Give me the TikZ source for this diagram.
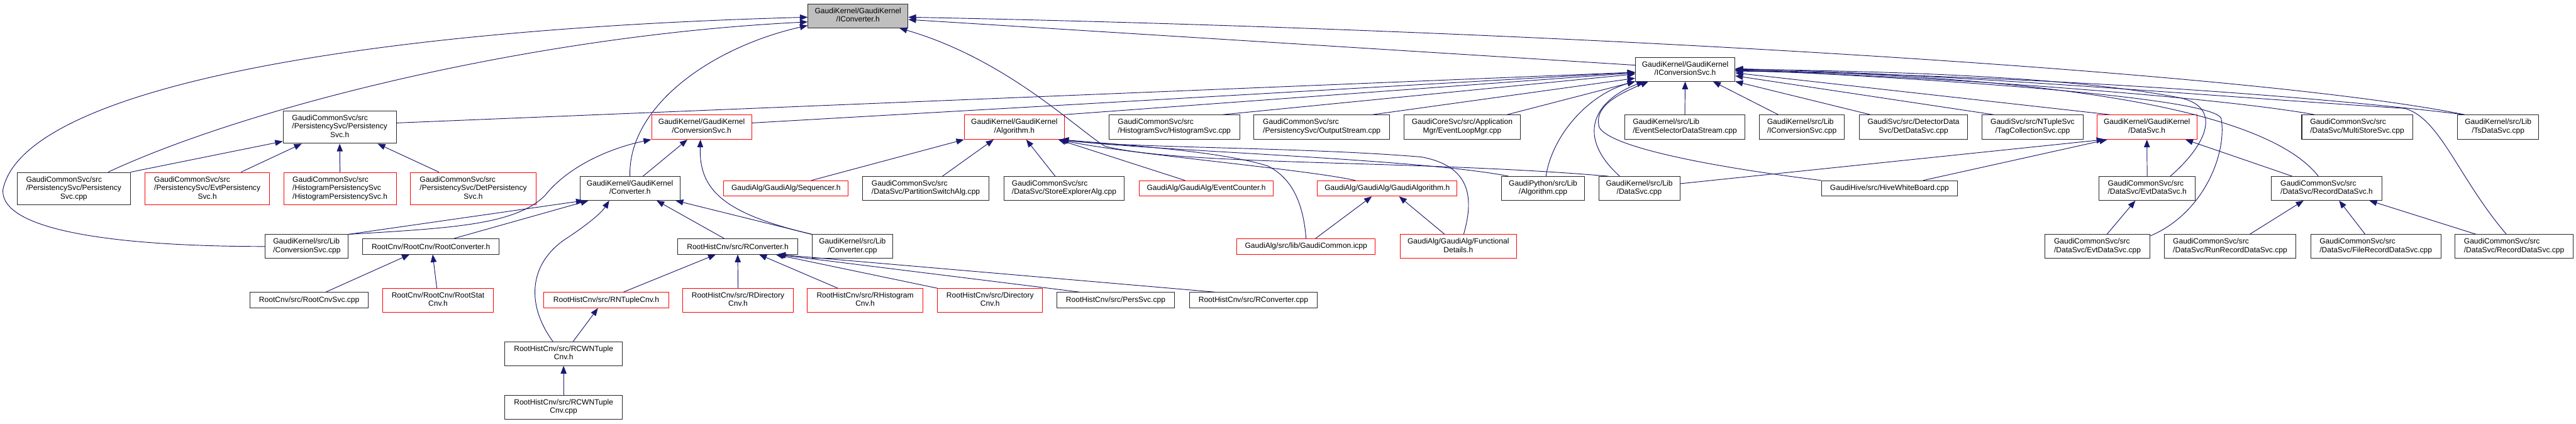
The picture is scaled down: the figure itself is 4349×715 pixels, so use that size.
\documentclass[tikz,border=0pt]{standalone}
\usepackage{fontspec}
\setmainfont{Liberation Sans}
\usepackage{tikz}
\usetikzlibrary{arrows.meta}
\usepackage{xcolor}
\definecolor{edgeblue}{RGB}{25,25,112}
\definecolor{rootgray}{RGB}{191,191,191}
\definecolor{incred}{RGB}{255,0,0}
\newcommand{\gfont}{\fontsize{12.8}{14.3}\selectfont}
\newcommand{\twoln}[2]{\begin{tabular}{@{}l@{}}#1\\\multicolumn{1}{@{}c@{}}{#2}\end{tabular}}
\newcommand{\threeln}[3]{\begin{tabular}{@{}l@{}}#1\\#2\\\multicolumn{1}{@{}c@{}}{#3}\end{tabular}}

\begin{document}
\begin{tikzpicture}[x=1pt, y=-1pt,
  file/.style={draw=black!85, line width=1.1pt, fill=white, inner xsep=3pt, inner ysep=0pt, font=\gfont, align=center},
  redfile/.style={file, draw=incred},
  rootfile/.style={file, fill=rootgray},
  dep/.style={edgeblue, line width=1pt, -{Triangle[length=13pt,width=10pt]}}]
\useasboundingbox (0,0) rectangle (4349,715);

\node[rootfile, minimum width=169, minimum height=40] (iconverter) at (1448.5,27) {\twoln{GaudiKernel/GaudiKernel}{/IConverter.h}};
\node[file, minimum width=168, minimum height=40] (iconvsvc) at (2845,117) {\twoln{GaudiKernel/GaudiKernel}{/IConversionSvc.h}};

\node[file, minimum width=191, minimum height=55] (perssvch) at (573.5,214.5) {\threeln{GaudiCommonSvc/src}{/PersistencySvc/Persistency}{Svc.h}};
\node[redfile, minimum width=169, minimum height=41] (convsvch) at (1184.5,214.5) {\twoln{GaudiKernel/GaudiKernel}{/ConversionSvc.h}};
\node[redfile, minimum width=169, minimum height=41] (algh) at (1712.5,214.5) {\twoln{GaudiKernel/GaudiKernel}{/Algorithm.h}};
\node[file, minimum width=221, minimum height=41] (histsvc) at (1982.5,214.5) {\twoln{GaudiCommonSvc/src}{/HistogramSvc/HistogramSvc.cpp}};
\node[file, minimum width=229, minimum height=41] (outstream) at (2231.5,214.5) {\twoln{GaudiCommonSvc/src}{/PersistencySvc/OutputStream.cpp}};
\node[file, minimum width=197, minimum height=41] (evtloop) at (2468.5,214.5) {\twoln{GaudiCoreSvc/src/Application}{Mgr/EventLoopMgr.cpp}};
\node[file, minimum width=203, minimum height=41] (evtsel) at (2844.5,214.5) {\twoln{GaudiKernel/src/Lib}{/EventSelectorDataStream.cpp}};
\node[file, minimum width=144, minimum height=41] (iconvsvccpp) at (3042,214.5) {\twoln{GaudiKernel/src/Lib}{/IConversionSvc.cpp}};
\node[file, minimum width=183, minimum height=41] (detdatasvc) at (3230.5,214.5) {\twoln{GaudiSvc/src/DetectorData}{Svc/DetDataSvc.cpp}};
\node[file, minimum width=171, minimum height=41] (tagcoll) at (3431.5,214.5) {\twoln{GaudiSvc/src/NTupleSvc}{/TagCollectionSvc.cpp}};
\node[redfile, minimum width=169, minimum height=41] (datasvch) at (3624.5,214.5) {\twoln{GaudiKernel/GaudiKernel}{/DataSvc.h}};
\node[file, minimum width=187, minimum height=41] (multistore) at (3979.5,214.5) {\twoln{GaudiCommonSvc/src}{/DataSvc/MultiStoreSvc.cpp}};
\node[file, minimum width=137, minimum height=41] (tsdatasvc) at (4217.5,214.5) {\twoln{GaudiKernel/src/Lib}{/TsDataSvc.cpp}};

\node[file, minimum width=191, minimum height=55] (perssvccpp) at (124.5,318.5) {\threeln{GaudiCommonSvc/src}{/PersistencySvc/Persistency}{Svc.cpp}};
\node[redfile, minimum width=210, minimum height=55] (evtpersh) at (350,318.5) {\threeln{GaudiCommonSvc/src}{/PersistencySvc/EvtPersistency}{Svc.h}};
\node[redfile, minimum width=190, minimum height=55] (histpersh) at (574,318.5) {\threeln{GaudiCommonSvc/src}{/HistogramPersistencySvc}{/HistogramPersistencySvc.h}};
\node[redfile, minimum width=212, minimum height=55] (detpersh) at (799,318.5) {\threeln{GaudiCommonSvc/src}{/PersistencySvc/DetPersistency}{Svc.h}};
\node[file, minimum width=169, minimum height=40] (converterh) at (1063.5,318) {\twoln{GaudiKernel/GaudiKernel}{/Converter.h}};
\node[redfile, minimum width=210, minimum height=26] (sequencerh) at (1327,318) {GaudiAlg/GaudiAlg/Sequencer.h};
\node[file, minimum width=214, minimum height=40] (partswitch) at (1563,318) {\twoln{GaudiCommonSvc/src}{/DataSvc/PartitionSwitchAlg.cpp}};
\node[file, minimum width=203, minimum height=40] (storeexpl) at (1796.5,318) {\twoln{GaudiCommonSvc/src}{/DataSvc/StoreExplorerAlg.cpp}};
\node[redfile, minimum width=227, minimum height=26] (evtcounterh) at (2036.5,318) {GaudiAlg/GaudiAlg/EventCounter.h};
\node[redfile, minimum width=236, minimum height=26] (gaudialgh) at (2342,318) {GaudiAlg/GaudiAlg/GaudiAlgorithm.h};
\node[file, minimum width=140, minimum height=40] (pyalgcpp) at (2605,318) {\twoln{GaudiPython/src/Lib}{/Algorithm.cpp}};
\node[file, minimum width=137, minimum height=40] (datasvccpp) at (2767.5,318) {\twoln{GaudiKernel/src/Lib}{/DataSvc.cpp}};
\node[file, minimum width=230, minimum height=26] (hivewb) at (3190,318) {GaudiHive/src/HiveWhiteBoard.cpp};
\node[file, minimum width=162, minimum height=40] (evtdatasvch) at (3625,318) {\twoln{GaudiCommonSvc/src}{/DataSvc/EvtDataSvc.h}};
\node[file, minimum width=186, minimum height=40] (recdatasvch) at (3928,318) {\twoln{GaudiCommonSvc/src}{/DataSvc/RecordDataSvc.h}};

\node[file, minimum width=140, minimum height=40] (convsvccpp) at (518,416) {\twoln{GaudiKernel/src/Lib}{/ConversionSvc.cpp}};
\node[file, minimum width=231, minimum height=26] (rootconvh) at (727.5,416) {RootCnv/RootCnv/RootConverter.h};
\node[file, minimum width=203, minimum height=26] (rconvh) at (1245.5,416) {RootHistCnv/src/RConverter.h};
\node[file, minimum width=136, minimum height=40] (convertercpp) at (1439,416) {\twoln{GaudiKernel/src/Lib}{/Converter.cpp}};
\node[redfile, minimum width=234, minimum height=26] (gaudicommon) at (2205,416) {GaudiAlg/src/lib/GaudiCommon.icpp};
\node[redfile, minimum width=196, minimum height=40] (functional) at (2462,416) {\twoln{GaudiAlg/GaudiAlg/Functional}{Details.h}};
\node[file, minimum width=178, minimum height=40] (evtdatasvccpp) at (3541,416) {\twoln{GaudiCommonSvc/src}{/DataSvc/EvtDataSvc.cpp}};
\node[file, minimum width=222, minimum height=40] (runrec) at (3765,416) {\twoln{GaudiCommonSvc/src}{/DataSvc/RunRecordDataSvc.cpp}};
\node[file, minimum width=220, minimum height=40] (filerec) at (4011,416) {\twoln{GaudiCommonSvc/src}{/DataSvc/FileRecordDataSvc.cpp}};
\node[file, minimum width=199, minimum height=40] (recdatasvccpp) at (4244.5,416) {\twoln{GaudiCommonSvc/src}{/DataSvc/RecordDataSvc.cpp}};

\node[file, minimum width=200, minimum height=26] (rootcnvsvc) at (522,506.5) {RootCnv/src/RootCnvSvc.cpp};
\node[redfile, minimum width=187, minimum height=40] (rootstat) at (739.5,507) {\twoln{RootCnv/RootCnv/RootStat}{Cnv.h}};
\node[redfile, minimum width=211, minimum height=26] (rntuple) at (1023.5,506.5) {RootHistCnv/src/RNTupleCnv.h};
\node[redfile, minimum width=186, minimum height=40] (rdircnv) at (1246,507) {\twoln{RootHistCnv/src/RDirectory}{Cnv.h}};
\node[redfile, minimum width=195, minimum height=40] (rhistcnv) at (1460.5,507) {\twoln{RootHistCnv/src/RHistogram}{Cnv.h}};
\node[redfile, minimum width=177, minimum height=40] (dircnv) at (1671.5,507) {\twoln{RootHistCnv/src/Directory}{Cnv.h}};
\node[file, minimum width=199, minimum height=26] (perssvcr) at (1883.5,506.5) {RootHistCnv/src/PersSvc.cpp};
\node[file, minimum width=216, minimum height=26] (rconvcpp) at (2116,506.5) {RootHistCnv/src/RConverter.cpp};

\node[file, minimum width=199, minimum height=40] (rcwnh) at (951.5,597) {\twoln{RootHistCnv/src/RCWNTuple}{Cnv.h}};
\node[file, minimum width=199, minimum height=41] (rcwncpp) at (951.5,687.5) {\twoln{RootHistCnv/src/RCWNTuple}{Cnv.cpp}};

\draw[dep] ([xshift=58pt]perssvccpp.north) .. controls (420,180) and (900,60) .. ([yshift=-10pt]iconverter.west);
\draw[dep] (convsvccpp.west) .. controls (200,416) and (0,390) .. (5,320) .. controls (40,150) and (600,50) .. ([yshift=-2pt]iconverter.west);
\draw[dep] (converterh.north) .. controls (1060,180) and (1200,80) .. ([yshift=-16pt]iconverter.west);
\draw[dep] ([yshift=7pt]iconvsvc.west) -- ([yshift=-6pt]iconverter.east);
\draw[dep] ([xshift=-57pt]tsdatasvc.north) .. controls (3800,120) and (2600,50) .. ([yshift=-2pt]iconverter.east);
\draw[dep] ([xshift=-52pt]datasvccpp.north) .. controls (2400,270) and (2000,280) .. (1866,247) .. controls (1820,220) and (1700,100) .. ([xshift=70pt]iconverter.south);

\draw[dep] ([yshift=7pt]perssvch.east) -- ([yshift=-5pt]iconvsvc.west);
\draw[dep] ([yshift=7pt]convsvch.east) -- ([yshift=-5pt]iconvsvc.west);
\draw[dep] (algh.north east) -- ([yshift=-6pt]iconvsvc.west);
\draw[dep] ([xshift=82pt]histsvc.north) -- ([yshift=-8pt]iconvsvc.west);
\draw[dep] ([xshift=86pt]outstream.north) -- ([yshift=-15pt]iconvsvc.west);
\draw[dep] ([xshift=76pt]evtloop.north) -- (iconvsvc.south west);
\draw[dep] (evtsel.north) -- (iconvsvc.south);
\draw[dep] ([xshift=-40pt]iconvsvccpp.north) -- ([xshift=47pt]iconvsvc.south);
\draw[dep] ([xshift=-73pt]detdatasvc.north) -- (iconvsvc.south east);
\draw[dep] ([xshift=-66pt]tagcoll.north) -- ([yshift=-11pt]iconvsvc.east);
\draw[dep] ([xshift=-63pt]datasvch.north) -- ([yshift=-6pt]iconvsvc.east);
\draw[dep] ([xshift=-72pt]multistore.north) .. controls (3750,165) and (3300,130) .. ([yshift=-2pt]iconvsvc.east);
\draw[dep] ([xshift=-14pt]recdatasvch.north) .. controls (3830,190) and (3500,130) .. ([yshift=-1pt]iconvsvc.east);
\draw[dep] ([xshift=39pt]evtdatasvch.north) .. controls (3730,240) and (3750,180) .. (3680,165) .. controls (3500,130) and (3200,120) .. (iconvsvc.east);
\draw[dep] ([yshift=18pt]evtdatasvccpp.east) .. controls (3720,360) and (3760,260) .. (3750,200) .. controls (3740,170) and (3400,140) .. (iconvsvc.east);
\draw[dep] ([xshift=-13pt]recdatasvccpp.north) .. controls (4150,300) and (4120,200) .. (4060,183) .. controls (3700,160) and (3300,125) .. ([yshift=1pt]iconvsvc.east);
\draw[dep] ([xshift=-57pt]tsdatasvc.north) .. controls (3800,150) and (3300,125) .. ([yshift=-3pt]iconvsvc.east);
\draw[dep] ([xshift=5pt]pyalgcpp.north) .. controls (2620,230) and (2680,160) .. (iconvsvc.south west);
\draw[dep] ([xshift=-33pt]datasvccpp.north) .. controls (2660,230) and (2690,170) .. ([xshift=-69pt]iconvsvc.south);
\draw[dep] (hivewb.north west) .. controls (2900,283) and (2720,250) .. (2700,215) .. controls (2690,180) and (2730,160) .. ([xshift=-62pt]iconvsvc.south);

\draw[dep] ([xshift=43pt]sequencerh.north) -- (algh.south west);
\draw[dep] ([xshift=28pt]partswitch.north) -- ([xshift=-35pt]algh.south);
\draw[dep] ([xshift=-15pt]storeexpl.north) -- ([xshift=20pt]algh.south);
\draw[dep] ([xshift=-36pt]evtcounterh.north) -- ([xshift=74pt]algh.south);
\draw[dep] ([xshift=-54pt]gaudialgh.north) .. controls (2200,285) and (1900,260) .. ([xshift=76pt]algh.south);
\draw[dep] ([xshift=-58pt]pyalgcpp.north) .. controls (2400,268) and (1950,255) .. ([xshift=77pt]algh.south);
\draw[dep] ([xshift=9pt]functional.north) .. controls (2490,330) and (2480,280) .. (2400,265) .. controls (2200,248) and (1900,250) .. ([xshift=78pt]algh.south);
\draw[dep] (gaudicommon.north) .. controls (2200,340) and (2180,300) .. (2140,280) .. controls (2060,255) and (1900,245) .. ([xshift=79pt]algh.south);

\draw[dep] ([xshift=16pt]gaudicommon.north) -- ([xshift=-26pt]gaudialgh.south);
\draw[dep] ([xshift=-23pt]functional.north) -- ([xshift=20pt]gaudialgh.south);

\draw[dep] (convsvccpp.north east) -- ([xshift=-78pt]converterh.south);
\draw[dep] ([xshift=39pt]rootconvh.north) -- ([xshift=-70pt]converterh.south);
\draw[dep] ([xshift=-18pt]rcwnh.north) .. controls (885,510) and (895,440) .. (960,400) .. controls (990,380) and (1015,360) .. ([xshift=-35pt]converterh.south);
\draw[dep] ([xshift=-23pt]rconvh.north) -- ([xshift=45pt]converterh.south);
\draw[dep] (convertercpp.north west) -- ([xshift=77pt]converterh.south);

\draw[dep] ([xshift=22pt]converterh.north) -- ([xshift=-24pt]convsvch.south);
\draw[dep] (convsvccpp.north east) .. controls (760,385) and (870,380) .. (920,330) .. controls (960,280) and (1030,250) .. (convsvch.south west);
\draw[dep] (convertercpp.north west) .. controls (1220,360) and (1180,320) .. ([xshift=-2pt]convsvch.south);

\draw[dep] (perssvccpp.north east) -- ([yshift=4pt]perssvch.south west);
\draw[dep] ([xshift=57pt]evtpersh.north) -- ([xshift=-64pt]perssvch.south);
\draw[dep] (histpersh.north) -- (perssvch.south);
\draw[dep] ([xshift=-58pt]detpersh.north) -- ([xshift=64pt]perssvch.south);

\draw[dep] (evtdatasvch.north) -- (datasvch.south);
\draw[dep] ([xshift=-58pt]recdatasvch.north) -- ([xshift=65pt]datasvch.south);
\draw[dep] ([yshift=8pt]datasvccpp.east) -- ([xshift=-72pt]datasvch.south);
\draw[dep] ([xshift=57pt]hivewb.north) -- ([xshift=-67pt]datasvch.south);

\draw[dep] ([xshift=33pt]runrec.north) -- ([xshift=-39pt]recdatasvch.south);
\draw[dep] ([xshift=-18pt]filerec.north) -- ([xshift=21pt]recdatasvch.south);
\draw[dep] ([xshift=-64pt]recdatasvccpp.north) -- ([xshift=72pt]recdatasvch.south);
\draw[dep] ([xshift=16pt]evtdatasvccpp.north) -- ([xshift=-20pt]evtdatasvch.south);

\draw[dep] ([xshift=28pt]rootcnvsvc.north) -- ([xshift=-36pt]rootconvh.south);
\draw[dep] ([xshift=-2pt]rootstat.north) -- ([xshift=3pt]rootconvh.south);
\draw[dep] ([xshift=29pt]rntuple.north) -- ([xshift=-37pt]rconvh.south);
\draw[dep] (rdircnv.north) -- (rconvh.south);
\draw[dep] ([xshift=-46pt]rhistcnv.north) -- ([xshift=36pt]rconvh.south);
\draw[dep] (dircnv.north west) -- ([xshift=64pt]rconvh.south);
\draw[dep] ([xshift=-61pt]perssvcr.north) -- ([xshift=66pt]rconvh.south);
\draw[dep] ([xshift=-65pt]rconvcpp.north) -- ([xshift=68pt]rconvh.south);
\draw[dep] ([xshift=16pt]rcwnh.north) -- ([xshift=-14pt]rntuple.south);
\draw[dep] (rcwncpp.north) -- (rcwnh.south);
\end{tikzpicture}
\end{document}
